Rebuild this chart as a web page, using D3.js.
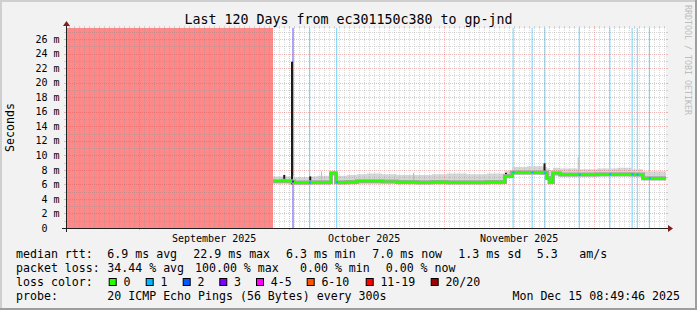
<!DOCTYPE html>
<html><head><meta charset="utf-8">
<script src="https://cdn.jsdelivr.net/npm/d3@7"></script>
<style>html,body{margin:0;padding:0;background:#f2f2f2;}svg{display:block}text{font-family:"DejaVu Sans Mono",monospace;fill:#000}</style>
</head><body><svg id="c" width="697" height="310"></svg>
<script>
// ---------------- data ----------------
const titleText = "Last 120 Days from ec301150c380 to gp-jnd";
const endTime = new Date(2025, 11, 15, 8, 49, 46);
const spanDays = 120;
const yMaxMs = 27.54;
const yTicks = [0, 2, 4, 6, 8, 10, 12, 14, 16, 18, 20, 22, 24, 26];
const yUnit = "m";
const yTitle = "Seconds";
const monthLabelDates = [new Date(2025, 8, 16), new Date(2025, 9, 16), new Date(2025, 10, 16)];
const monthLabels = ["September 2025", "October 2025", "November 2025"];

// full (20/20) loss from day 0 until day:
const fullLossEndDay = 41.4;
// partial loss background (days since start, duration, loss level)
const lossDays = [45.2, 48.6, 54.0, 89.3, 93.1, 95.64, 102.52, 108.64, 113.1, 114.14, 116.56];
const lossDur  = [0.4, 0.25, 0.25, 0.25, 0.25, 0.25, 0.25, 0.25, 0.25, 0.25, 0.25];
const lossLvl  = [3, 1, 1, 1, 1, 1, 1, 1, 1, 1, 1];

// median rtt (ms) steps
const medDays = [41.4, 43.4, 43.6, 45.0, 45.6, 48.6, 48.8, 50.2, 53.0, 54.0,
                 56.2, 58.2, 60.2, 63.2, 66.2, 70.2, 73.2, 76.2, 80.2, 84.2,
                 87.8, 89.2, 92.2, 95.5, 96.2, 96.7, 97.4, 98.8, 102.2, 106.2,
                 110.2, 113.2, 115.4, 117.7, 120];
const medMs = [6.45, 6.5, 6.45, 6.4, 6.25, 6.25, 6.3, 6.3, 7.55, 6.3,
               6.35, 6.45, 6.45, 6.4, 6.35, 6.3, 6.35, 6.3, 6.3, 6.35,
               7.15, 7.65, 7.65, 7.6, 6.9, 6.35, 7.55, 7.35, 7.35, 7.4,
               7.4, 7.35, 6.85, 6.85, 6.85];
const smokeHi = [7.1, 7.2, 7.1, 7.2, 7.0, 7.0, 7.1, 7.2, 7.9, 7.2,
                 7.3, 7.4, 7.5, 7.4, 7.3, 7.3, 7.4, 7.5, 7.4, 7.5,
                 7.9, 8.4, 8.5, 8.4, 8.2, 8.0, 8.3, 8.2, 8.1, 8.2,
                 8.3, 8.1, 7.8, 7.8, 7.8];
const smokeLo = [6.1, 6.15, 6.1, 6.05, 5.9, 5.9, 5.95, 5.95, 7.2, 5.95,
                 6.0, 6.1, 6.1, 6.05, 6.0, 5.95, 6.0, 5.95, 5.95, 6.0,
                 6.8, 7.3, 7.3, 7.25, 6.5, 6.0, 7.2, 7.0, 7.0, 7.05,
                 7.05, 7.0, 6.5, 6.5, 6.5];
// dark smoke spikes
const darkSpikeDays = [43.45, 45.0, 48.65, 53.0, 87.8, 95.5];
const darkSpikeHi   = [7.3, 22.9, 7.1, 7.6, 7.6, 8.9];
const darkSpikeLo   = [6.3, 6.0, 6.3, 6.4, 6.3, 7.4];
// light smoke spikes
const graySpikeDays = [51.0, 69.4, 102.35];
const graySpikeHi   = [7.8, 7.6, 9.8];

// legend
const lossLabels = ["0", "1", "2", "3", "4-5", "6-10", "11-19", "20/20"];
const lossColors = ["#26ff00", "#00b8ff", "#0059ff", "#7e00ff", "#ff00ff", "#ff5500", "#ff0000", "#a10000"];
const row1 = ["median rtt:", "6.9 ms avg", "22.9 ms max", "6.3 ms min", "7.0 ms now", "1.3 ms sd", "5.3", "am/s"];
const row2 = ["packet loss:", "34.44 % avg", "100.00 % max", "0.00 % min", "0.00 % now"];
const row3Head = "loss color:";
const row4 = ["probe:", "20 ICMP Echo Pings (56 Bytes) every 300s"];
const stampText = "Mon Dec 15 08:49:46 2025";
const watermark = "RRDTOOL / TOBI OETIKER";

// ---------------- layout / style ----------------
const L = 66, R = 666, T = 28, B = 228;
const row1X = [16, 107.3, 193.3, 286, 372.3, 458.3, 536.7, 579.3];
const row2X = [16, 107.3, 195, 300, 385.7];
const boxX = [108.7, 145.7, 182.7, 219.3, 256, 306.7, 365.7, 430.7];
const lossBg = {1: "#8adcff", 3: "#b0a2ff"};
const fullLossBg = "#ff8888";
const gridCol = "rgba(143,143,143,0.34)", mgridCol = "rgba(222,79,79,0.38)";

const svg = d3.select("#c");
const start = new Date(endTime.getTime() - spanDays * 864e5);
const dayDate = d => new Date(start.getTime() + d * 864e5);
const x = d3.scaleTime().domain([start, endTime]).range([L, R]);
const y = d3.scaleLinear().domain([0, yMaxMs]).range([B, T]);
const px = v => Math.round(v) + 0.5;

// background + 3d border
svg.append("rect").attr("width", 697).attr("height", 310).attr("fill", "#f2f2f2");
svg.append("path").attr("d", "M0,0H697V2H2V310H0Z").attr("fill", "#cfcfcf");
svg.append("path").attr("d", "M697,0V310H0V308H695V0Z").attr("fill", "#9e9e9e");
svg.append("rect").attr("x", L).attr("y", T).attr("width", R - L).attr("height", B - T).attr("fill", "#fff");

// loss backgrounds
svg.append("rect").attr("x", x(start)).attr("y", T).attr("width", x(dayDate(fullLossEndDay)) - x(start))
  .attr("height", B - T).attr("fill", fullLossBg);
lossDays.forEach((d, i) => {
  const x0 = x(dayDate(d)), x1 = x(dayDate(d + lossDur[i]));
  svg.append("rect").attr("x", x0).attr("y", T).attr("width", Math.max(1.2, x1 - x0)).attr("height", B - T)
    .attr("fill", lossBg[lossLvl[i]]);
});

// smoke
const pts = medDays.map((d, i) => ({t: dayDate(d), m: medMs[i], hi: smokeHi[i], lo: smokeLo[i]}));
svg.append("path").datum(pts).attr("fill", "#d6d6d6")
  .attr("d", d3.area().x(d => x(d.t)).y0(d => y(d.lo)).y1(d => y(d.hi)).curve(d3.curveStepAfter));
graySpikeDays.forEach((d, i) => {
  const m = medMs[Math.max(0, d3.bisectRight(medDays, d) - 1)];
  svg.append("rect").attr("x", x(dayDate(d))).attr("y", y(graySpikeHi[i])).attr("width", 1)
    .attr("height", y(m) - y(graySpikeHi[i])).attr("fill", "#bdbdbd");
});

// grid
const gx = svg.append("g");
const days = d3.timeDay.range(d3.timeDay.ceil(start), endTime);
const months = d3.timeMonth.range(d3.timeMonth.ceil(start), endTime);
const isMonth = d => d.getDate() === 1;
days.filter(d => !isMonth(d)).forEach(d => {
  const xx = px(x(d));
  gx.append("line").attr("x1", xx).attr("x2", xx).attr("y1", T).attr("y2", B).attr("stroke", gridCol).attr("stroke-dasharray", "1,1");
  gx.append("line").attr("x1", xx).attr("x2", xx).attr("y1", T - 2).attr("y2", T).attr("stroke", gridCol);
});
for (let v = 1; v <= Math.floor(yMaxMs); v++) {
  if (yTicks.includes(v)) continue;
  const yy = px(y(v));
  gx.append("line").attr("x1", L).attr("x2", R).attr("y1", yy).attr("y2", yy).attr("stroke", gridCol).attr("stroke-dasharray", "1,1");
  gx.append("line").attr("x1", L - 2).attr("x2", L).attr("y1", yy).attr("y2", yy).attr("stroke", gridCol);
  gx.append("line").attr("x1", R).attr("x2", R + 2).attr("y1", yy).attr("y2", yy).attr("stroke", gridCol);
}
months.forEach(d => {
  const xx = px(x(d));
  gx.append("line").attr("x1", xx).attr("x2", xx).attr("y1", T).attr("y2", B).attr("stroke", mgridCol).attr("stroke-dasharray", "1,1");
  gx.append("line").attr("x1", xx).attr("x2", xx).attr("y1", T - 2).attr("y2", T).attr("stroke", mgridCol);
  gx.append("line").attr("x1", xx).attr("x2", xx).attr("y1", B).attr("y2", B + 2).attr("stroke", mgridCol);
});
yTicks.filter(v => v > 0).forEach(v => {
  const yy = px(y(v));
  gx.append("line").attr("x1", L).attr("x2", R).attr("y1", yy).attr("y2", yy).attr("stroke", mgridCol).attr("stroke-dasharray", "1,1");
  gx.append("line").attr("x1", L - 2).attr("x2", L).attr("y1", yy).attr("y2", yy).attr("stroke", mgridCol);
  gx.append("line").attr("x1", R).attr("x2", R + 2).attr("y1", yy).attr("y2", yy).attr("stroke", mgridCol);
});

// dark spikes
darkSpikeDays.forEach((d, i) => {
  svg.append("rect").attr("x", x(dayDate(d))).attr("y", y(darkSpikeHi[i])).attr("width", 2)
    .attr("height", y(darkSpikeLo[i]) - y(darkSpikeHi[i])).attr("fill", "#1a1a1a");
});

// median line
const line = d3.line().x(d => x(d.t)).y(d => y(d.m)).curve(d3.curveStepAfter);
svg.append("path").datum(pts).attr("fill", "none").attr("stroke", "#a6a6a6").attr("stroke-width", 4).attr("d", line);
svg.append("path").datum(pts).attr("fill", "none").attr("stroke", lossColors[0]).attr("stroke-width", 2.2).attr("d", line);
lossDays.forEach((d, i) => {
  const m = medMs[Math.max(0, d3.bisectRight(medDays, d) - 1)];
  svg.append("line").attr("x1", x(dayDate(d))).attr("x2", x(dayDate(d)) + 2).attr("y1", y(m)).attr("y2", y(m))
    .attr("stroke", lossColors[lossLvl[i]]).attr("stroke-width", 2.2);
});

// axes
svg.append("line").attr("x1", L - 4).attr("x2", R + 4).attr("y1", B + 0.5).attr("y2", B + 0.5).attr("stroke", "#1f1f1f");
svg.append("line").attr("x1", L + 0.5).attr("x2", L + 0.5).attr("y1", B + 4).attr("y2", T - 4).attr("stroke", "#1f1f1f");
svg.append("path").attr("d", `M${R + 2},${B - 3}L${R + 2},${B + 4}L${R + 7},${B + 0.5}Z`).attr("fill", "#801f1f");
svg.append("path").attr("d", `M${L - 3},${T - 2}L${L + 4},${T - 2}L${L + 0.5},${T - 7}Z`).attr("fill", "#801f1f");

// y labels
yTicks.forEach(v => {
  const yy = y(v) + 3.6;
  svg.append("text").attr("x", 47.5).attr("y", yy).attr("text-anchor", "end").attr("font-size", "10px").text(v);
  if (v > 0) svg.append("text").attr("x", 53.5).attr("y", yy).attr("font-size", "10px").text(yUnit);
});
svg.append("text").attr("transform", "translate(14,127.5) rotate(-90)").attr("text-anchor", "middle")
  .attr("font-size", "11.6px").text(yTitle);

// x labels
monthLabelDates.forEach((d, i) => {
  svg.append("text").attr("x", x(d)).attr("y", 241.5).attr("text-anchor", "middle").attr("font-size", "10px").text(monthLabels[i]);
});

// title
svg.append("text").attr("x", 348.5).attr("y", 24).attr("text-anchor", "middle").attr("font-size", "13.3px").text(titleText);

// watermark
svg.append("text").attr("transform", "translate(685,5) rotate(90)").attr("font-size", "8.3px")
  .style("fill", "#bdbdbd").text(watermark);

// legend
const lg = svg.append("g").attr("font-size", "11.6px");
const addRow = (items, xs, yy) => items.forEach((t, i) =>
  lg.append("text").attr("x", xs[i]).attr("y", yy).attr("xml:space", "preserve").text(t));
addRow(row1, row1X, 258);
addRow(row2, row2X, 272);
lg.append("text").attr("x", 16).attr("y", 286).text(row3Head);
lossLabels.forEach((lab, i) => {
  lg.append("rect").attr("x", boxX[i] + 0.5).attr("y", 278.5).attr("width", 7).attr("height", 7)
    .attr("fill", lossColors[i]).attr("stroke", "#000").attr("stroke-width", 1);
  lg.append("text").attr("x", boxX[i] + 14.7).attr("y", 286).text(lab);
});
addRow(row4, [16, 107.3], 300);
lg.append("text").attr("x", 680).attr("y", 300).attr("text-anchor", "end").text(stampText);
</script></body></html>
